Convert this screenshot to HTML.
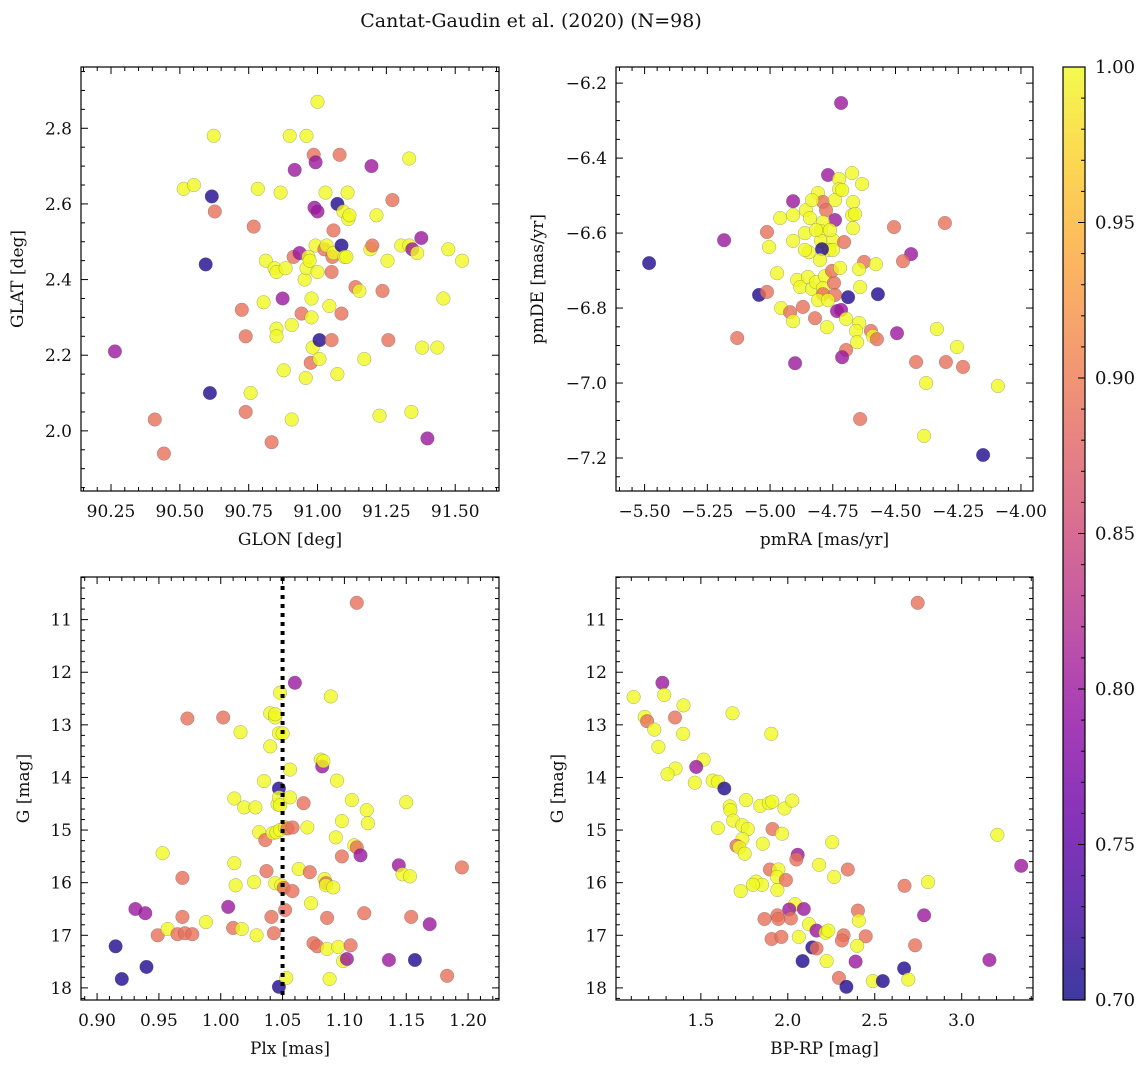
<!DOCTYPE html>
<html><head><meta charset="utf-8">
<style>
html,body{margin:0;padding:0;background:#fff;}
svg{display:block;font-family:"DejaVu Serif","Liberation Serif",serif;}
</style></head>
<body>
<svg id="fig" width="1148" height="1067" viewBox="0 0 1148 1067" xmlns="http://www.w3.org/2000/svg">
<text x="531" y="27" font-size="19" text-anchor="middle" fill="#111">Cantat-Gaudin et al. (2020) (N=98)</text>
</svg>
<script>
// ---- data ----
const p1Glon=[90.264,90.409,90.442,90.514,90.551,90.616,90.594,90.609,90.623,90.627,90.725,90.739,90.739,90.757,90.768,90.783,90.804,90.812,90.833,90.844,90.851,90.851,90.851,90.866,90.873,90.877,90.884,90.899,90.906,90.906,90.913,90.917,90.935,90.942,90.953,90.957,90.960,90.960,90.967,90.971,90.975,90.978,90.978,90.982,90.986,90.989,90.993,90.993,91.000,91.000,91.000,91.007,91.007,91.025,91.029,91.033,91.043,91.051,91.051,91.054,91.058,91.058,91.072,91.072,91.080,91.087,91.087,91.094,91.098,91.105,91.109,91.112,91.116,91.138,91.152,91.170,91.192,91.196,91.199,91.214,91.225,91.236,91.254,91.257,91.272,91.304,91.333,91.333,91.341,91.344,91.362,91.380,91.377,91.399,91.435,91.457,91.475,91.525];
const p1Glat=[2.21,2.03,1.94,2.64,2.65,2.62,2.44,2.10,2.78,2.58,2.32,2.25,2.05,2.10,2.54,2.64,2.34,2.45,1.97,2.43,2.42,2.27,2.25,2.63,2.35,2.16,2.43,2.78,2.28,2.03,2.46,2.69,2.47,2.31,2.40,2.14,2.43,2.78,2.46,2.45,2.18,2.30,2.35,2.22,2.73,2.59,2.71,2.49,2.58,2.87,2.42,2.19,2.24,2.48,2.63,2.49,2.33,2.24,2.42,2.46,2.53,2.47,2.60,2.15,2.73,2.31,2.49,2.58,2.46,2.46,2.63,2.56,2.57,2.38,2.37,2.19,2.48,2.70,2.49,2.57,2.04,2.37,2.45,2.24,2.61,2.49,2.72,2.49,2.05,2.48,2.47,2.22,2.51,1.98,2.22,2.35,2.48,2.45];
const p1Prob=[0.80,0.89,0.89,1,1,0.71,0.71,0.71,1,0.89,0.89,0.89,0.89,1,0.89,1,1,1,0.89,1,1,1,1,1,0.80,1,1,1,1,1,0.89,0.80,0.80,0.89,1,1,1,1,1,1,0.89,1,1,1,0.89,0.80,0.80,1,0.80,1,1,1,0.71,0.89,1,1,1,0.89,0.89,0.89,0.89,1,0.71,1,0.89,0.89,0.71,1,1,1,1,1,1,0.89,1,1,1,0.80,0.89,1,1,0.89,1,0.89,0.89,1,1,1,1,0.80,1,1,0.80,0.80,1,1,1,1];

const p2PmRA=[-5.482,-5.183,-5.131,-5.012,-5.004,-5.044,-5.012,-4.960,-4.908,-4.908,-4.908,-4.857,-4.841,-4.861,-4.972,-4.956,-4.920,-4.869,-4.908,-4.900,-4.892,-4.880,-4.849,-4.833,-4.817,-4.781,-4.789,-4.745,-4.789,-4.741,-4.821,-4.773,-4.733,-4.809,-4.769,-4.725,-4.725,-4.789,-4.777,-4.741,-4.741,-4.789,-4.797,-4.797,-4.749,-4.765,-4.749,-4.793,-4.845,-4.801,-4.753,-4.717,-4.673,-4.633,-4.713,-4.669,-4.673,-4.661,-4.669,-4.506,-4.303,-4.705,-4.438,-4.470,-4.625,-4.578,-4.645,-4.641,-4.689,-4.570,-4.717,-4.697,-4.645,-4.657,-4.653,-4.598,-4.590,-4.574,-4.494,-4.335,-4.255,-4.418,-4.299,-4.231,-4.378,-4.092,-4.697,-4.713,-4.641,-4.386,-4.151,-4.721,-4.809,-4.861,-4.761,-4.833,-4.769,-4.817];
const p2PmDE=[-6.680,-6.619,-6.880,-6.597,-6.637,-6.765,-6.757,-6.560,-6.552,-6.515,-6.621,-6.539,-6.560,-6.600,-6.707,-6.800,-6.811,-6.797,-6.835,-6.947,-6.725,-6.744,-6.717,-6.749,-6.731,-6.715,-6.747,-6.733,-6.763,-6.765,-6.827,-6.851,-6.808,-6.493,-6.445,-6.456,-6.483,-6.517,-6.539,-6.512,-6.565,-6.571,-6.595,-6.621,-6.619,-6.645,-6.645,-6.643,-6.651,-6.672,-6.701,-6.253,-6.440,-6.469,-6.485,-6.517,-6.552,-6.549,-6.587,-6.584,-6.573,-6.624,-6.656,-6.675,-6.677,-6.683,-6.696,-6.744,-6.771,-6.763,-6.805,-6.829,-6.840,-6.861,-6.891,-6.861,-6.875,-6.883,-6.867,-6.856,-6.904,-6.944,-6.944,-6.957,-7.000,-7.008,-6.912,-6.931,-7.096,-7.141,-7.192,-6.693,-6.779,-6.645,-6.592,-6.512,-6.779,-6.592];
const p2Prob=[0.71,0.80,0.89,0.89,1,0.71,0.89,1,1,0.80,1,1,1,1,1,1,0.89,0.89,1,0.80,1,1,1,1,1,1,1,0.89,0.89,0.89,0.89,1,0.80,1,0.80,1,1,0.89,0.89,1,0.80,1,1,1,1,1,1,0.71,1,1,0.89,0.80,1,1,1,1,1,1,1,0.89,0.89,0.89,0.80,0.89,0.89,1,1,1,0.71,0.71,0.80,1,1,1,1,0.89,1,0.89,0.80,1,1,0.89,0.89,0.89,1,1,0.89,0.80,0.89,1,0.71,1,1,1,1,1,1,1];

const p3Plx=[0.915,0.920,0.931,0.940,0.939,0.949,0.953,0.957,0.965,0.969,0.969,0.971,0.973,0.977,0.988,1.002,1.006,1.010,1.011,1.011,1.012,1.016,1.017,1.019,1.027,1.028,1.029,1.031,1.035,1.036,1.037,1.040,1.040,1.041,1.042,1.043,1.044,1.044,1.044,1.045,1.046,1.047,1.047,1.047,1.047,1.048,1.048,1.048,1.049,1.050,1.051,1.052,1.052,1.053,1.054,1.056,1.056,1.058,1.058,1.060,1.063,1.067,1.070,1.072,1.073,1.075,1.078,1.081,1.082,1.083,1.084,1.085,1.085,1.086,1.086,1.088,1.089,1.091,1.093,1.094,1.095,1.098,1.098,1.099,1.102,1.105,1.106,1.108,1.110,1.110,1.113,1.116,1.118,1.119,1.136,1.144,1.147,1.150,1.153,1.154,1.157,1.169,1.183,1.195];
const p3G=[17.21,17.83,16.50,17.60,16.58,17.00,15.44,16.88,16.98,15.91,16.65,16.96,12.88,16.98,16.75,12.86,16.46,16.86,14.40,15.63,16.05,13.14,16.88,14.57,15.99,14.57,17.00,15.04,14.07,15.19,15.78,13.41,12.78,16.65,15.06,16.96,12.86,16.01,12.80,15.04,14.51,14.21,17.98,13.16,14.38,12.39,15.00,14.53,16.05,13.16,16.10,14.95,16.52,17.81,14.97,13.85,14.38,14.95,16.16,12.20,15.74,14.49,14.95,15.80,16.39,17.15,17.21,13.66,13.79,13.69,15.93,16.01,16.05,16.67,17.26,17.83,12.46,16.09,15.14,14.06,17.22,15.50,14.83,17.49,17.45,17.19,14.43,15.29,10.68,15.33,15.48,16.58,14.62,14.87,17.47,15.67,15.84,14.47,15.88,16.65,17.47,16.79,17.77,15.71];
const p3Prob=[0.71,0.71,0.80,0.71,0.80,0.89,1,1,0.89,0.89,0.89,0.89,0.89,0.89,1,0.89,0.80,0.89,1,1,1,1,1,1,1,1,1,1,1,0.89,0.89,1,1,0.89,1,0.89,1,1,1,1,1,0.71,0.71,1,1,1,1,1,1,1,0.89,1,0.89,1,0.89,1,1,0.89,0.89,0.80,1,0.89,1,0.89,1,0.89,0.89,1,0.80,1,1,0.89,1,0.89,1,1,1,1,1,1,1,0.89,1,1,0.80,0.89,1,1,0.89,0.89,0.80,0.89,1,1,0.80,0.80,1,1,1,0.89,0.71,0.80,0.89,0.89];
const plxRef=1.05;

const p4BpRp=[2.747,1.279,1.113,1.289,1.400,1.682,1.177,1.191,1.351,1.232,1.398,1.905,1.256,1.516,1.473,1.355,1.308,1.465,1.568,1.598,1.635,1.760,1.842,1.891,1.911,1.981,2.026,1.666,1.670,1.686,1.598,1.739,1.770,1.912,1.967,1.739,1.705,1.721,1.752,1.856,2.255,2.057,2.049,2.180,2.345,2.266,1.897,1.946,1.938,1.989,1.817,1.852,1.799,1.729,1.940,2.671,2.806,3.205,3.342,2.784,2.042,2.008,2.092,1.866,1.940,1.946,2.018,2.122,2.165,2.217,2.233,2.403,2.409,1.907,1.963,2.063,2.321,2.311,2.448,2.399,2.141,2.165,2.732,2.085,2.223,2.390,3.159,2.669,2.294,2.337,2.489,2.546,2.693];
const p4G=[10.68,12.20,12.47,12.43,12.63,12.78,12.85,12.93,12.86,13.09,13.17,13.17,13.42,13.66,13.80,13.83,13.94,14.10,14.06,14.08,14.21,14.43,14.54,14.49,14.46,14.59,14.44,14.55,14.62,14.82,14.96,14.91,14.98,14.98,15.07,15.17,15.30,15.33,15.45,15.26,15.23,15.47,15.56,15.66,15.75,15.89,15.75,15.75,15.89,15.95,15.98,16.04,16.04,16.16,16.14,16.06,15.99,15.09,15.68,16.62,16.41,16.51,16.50,16.69,16.62,16.69,16.68,16.79,16.91,16.95,16.91,16.53,16.72,17.07,17.03,17.03,17.00,17.10,17.02,17.20,17.23,17.25,17.19,17.49,17.49,17.50,17.47,17.63,17.81,17.98,17.87,17.87,17.84];
const p4Prob=[0.89,0.80,1,1,1,1,1,0.89,0.89,1,1,1,1,1,0.80,1,1,1,1,1,0.71,1,1,1,1,1,1,1,1,1,1,1,1,0.89,1,1,0.89,1,1,1,1,0.80,0.89,1,0.89,1,0.89,1,1,0.89,1,1,1,1,1,0.89,1,1,0.80,0.80,1,0.80,0.80,0.89,0.89,0.89,0.89,1,0.80,1,1,0.89,1,0.89,0.89,1,0.89,0.89,0.89,1,0.71,0.89,0.89,0.71,1,0.80,0.80,0.71,0.89,0.71,1,0.71,1];

const cbTicks=[0.70,0.75,0.80,0.85,0.90,0.95,1.00];

// ---- helpers ----
const NS="http://www.w3.org/2000/svg";
const svg=document.getElementById('fig');
function mk(tag,attrs,parent){const e=document.createElementNS(NS,tag);for(const k in attrs)e.setAttribute(k,attrs[k]);(parent||svg).appendChild(e);return e;}
const stops=[[0,[13,8,135]],[0.1,[65,4,157]],[0.2,[106,0,168]],[0.3,[143,13,164]],[0.4,[177,42,144]],[0.5,[204,71,120]],[0.6,[225,100,98]],[0.7,[242,132,75]],[0.8,[252,166,54]],[0.9,[252,206,37]],[1,[240,249,33]]];
function plasma(t){t=Math.max(0,Math.min(1,t));for(let i=1;i<stops.length;i++){if(t<=stops[i][0]){const a=stops[i-1],b=stops[i];const f=(t-a[0])/(b[0]-a[0]);const c=a[1].map((v,j)=>Math.round(v+(b[1][j]-v)*f));return `rgb(${c[0]},${c[1]},${c[2]})`;}}return 'rgb(240,249,33)';}
function cnorm(p){return (p-0.70)/0.30;}
function fmt(v,d){return v.toFixed(d).replace('-','\u2212');}

function panel(cfg){
  const g=mk('g',{});
  
  
  const {L,T,W,H,xmin,xmax,ymin,ymax,invY}=cfg;
  const sx=v=>L+(v-xmin)/(xmax-xmin)*W;
  const sy=v=>invY?T+(v-ymin)/(ymax-ymin)*H:T+H-(v-ymin)/(ymax-ymin)*H;
  const pg=mk('g',{},g);
  
  
  for(let i=0;i<cfg.xs.length;i++){
    const c=mk('circle',{cx:sx(cfg.xs[i]).toFixed(1),cy:sy(cfg.ys[i]).toFixed(1),r:6.8,fill:plasma(cnorm(cfg.ps[i])),'fill-opacity':0.8,stroke:'#555','stroke-width':0.5,'stroke-opacity':0.5},pg);
    
    
  }
  if(cfg.vline!==undefined){
    const l=mk('line',{x1:sx(cfg.vline),x2:sx(cfg.vline),y1:T,y2:T+H,stroke:'#000','stroke-width':4,'stroke-dasharray':'4,5'},g);
    
    
  }
  const fr=mk('rect',{x:L,y:T,width:W,height:H,fill:'none',stroke:'#000','stroke-width':1.2},g);
  
  
  const tk=mk('g',{stroke:'#000','stroke-width':1},g);
  
  
  const eps=1e-9;
  for(let v=Math.ceil(xmin/cfg.xminor-eps)*cfg.xminor;v<=xmax+eps;v+=cfg.xminor){
    const x=sx(v);const maj=Math.abs(v/cfg.xmajor-Math.round(v/cfg.xmajor))<1e-6;const len=maj?7:4;
    mk('line',{x1:x,x2:x,y1:T+H,y2:T+H-len},tk);mk('line',{x1:x,x2:x,y1:T,y2:T+len},tk);
    if(maj){const t=mk('text',{x:x,y:T+H+26,'font-size':17,'text-anchor':'middle',fill:'#111',stroke:'none'},g);t.textContent=fmt(v,cfg.xdec);
      }
  }
  for(let v=Math.ceil(ymin/cfg.yminor-eps)*cfg.yminor;v<=ymax+eps;v+=cfg.yminor){
    const y=sy(v);const maj=Math.abs(v/cfg.ymajor-Math.round(v/cfg.ymajor))<1e-6;const len=maj?7:4;
    mk('line',{x1:L,x2:L+len,y1:y,y2:y},tk);mk('line',{x1:L+W,x2:L+W-len,y1:y,y2:y},tk);
    if(maj){const t=mk('text',{x:L-9,y:y+6,'font-size':17,'text-anchor':'end',fill:'#111',stroke:'none'},g);t.textContent=fmt(v,cfg.ydec);
      }
  }
  const xl=mk('text',{x:L+W/2,y:T+H+54,'font-size':17,'text-anchor':'middle',fill:'#111'},g);xl.textContent=cfg.xlabel;
  
  const yx=cfg.ylx, yy=T+H/2;
  const yl=mk('text',{x:yx,y:yy,'font-size':17,'text-anchor':'middle',fill:'#111',transform:`rotate(-90 ${yx} ${yy})`},g);yl.textContent=cfg.ylabel;
  
}

panel({name:'glon-glat-panel',L:81,T:67,W:418,H:424,xmin:90.141,xmax:91.659,ymin:1.841,ymax:2.962,xmajor:0.25,xminor:0.05,ymajor:0.2,yminor:0.05,xdec:2,ydec:1,xs:p1Glon,ys:p1Glat,ps:p1Prob,xlabel:'GLON [deg]',ylabel:'GLAT [deg]',ylx:23});
panel({name:'proper-motion-panel',L:616,T:67,W:417,H:424,xmin:-5.614,xmax:-3.952,ymin:-7.288,ymax:-6.157,xmajor:0.25,xminor:0.05,ymajor:0.2,yminor:0.05,xdec:2,ydec:1,xs:p2PmRA,ys:p2PmDE,ps:p2Prob,xlabel:'pmRA [mas/yr]',ylabel:'pmDE [mas/yr]',ylx:543});
panel({name:'parallax-magnitude-panel',L:81,T:577,W:418,H:423,xmin:0.887,xmax:1.225,ymin:10.19,ymax:18.23,invY:true,xmajor:0.05,xminor:0.01,ymajor:1,yminor:0.2,xdec:2,ydec:0,xs:p3Plx,ys:p3G,ps:p3Prob,xlabel:'Plx [mas]',ylabel:'G [mag]',ylx:29,vline:plxRef});
panel({name:'color-magnitude-panel',L:616,T:577,W:417,H:423,xmin:1.012,xmax:3.41,ymin:10.19,ymax:18.23,invY:true,xmajor:0.5,xminor:0.1,ymajor:1,yminor:0.2,xdec:1,ydec:0,xs:p4BpRp,ys:p4G,ps:p4Prob,xlabel:'BP-RP [mag]',ylabel:'G [mag]',ylx:563});

(function(){
  const L=1063,T=67,W=22,H=933;
  const cg=mk('g',{});
  
  
  const defs=mk('defs',{},cg);
  const lg=mk('linearGradient',{id:'cbg',x1:0,y1:1,x2:0,y2:0},defs);
  for(let i=0;i<=20;i++){mk('stop',{offset:i/20,'stop-color':plasma(i/20),'stop-opacity':0.8},lg);}
  const r=mk('rect',{x:L,y:T,width:W,height:H,fill:'url(#cbg)',stroke:'#000','stroke-width':1.2},cg);
  
  
  const sy=v=>T+H-(v-0.70)/0.30*H;
  for(let k=0;k<=30;k++){const v=0.70+k*0.01;const y=sy(v);const maj=k%5===0;
    mk('line',{x1:L+W,x2:L+W-(maj?7:4),y1:y,y2:y,stroke:'#000','stroke-width':1},cg);}
  cbTicks.forEach(v=>{const t=mk('text',{x:L+W+10,y:sy(v)+6,'font-size':18,fill:'#111'},cg);t.textContent=v.toFixed(2);
    });
})();
</script>
</body></html>
